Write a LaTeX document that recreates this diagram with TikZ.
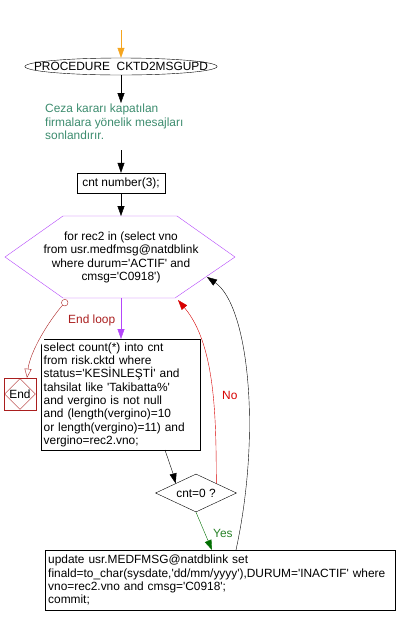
\documentclass[tikz,border=0pt]{standalone}
\usepackage{fontspec}
\setmainfont{Liberation Sans}[Ligatures=TeXOff]
\usetikzlibrary{shapes.geometric,arrows.meta}
\definecolor{orangeA}{RGB}{245,165,30}
\definecolor{purpA}{RGB}{180,70,250}
\definecolor{dred}{RGB}{170,30,30}
\definecolor{redA}{RGB}{215,0,0}
\definecolor{greenA}{RGB}{0,110,0}
\definecolor{greenT}{RGB}{40,130,40}
\definecolor{teal}{RGB}{60,140,110}
\tikzset{
  txt/.style={font=\fontsize{11.9}{13.3}\selectfont},
  boxn/.style={draw=black,txt,inner sep=2.5pt,align=left},
  arr/.style={-{Triangle[width=7pt,length=10pt]}},
}
\begin{document}
\begin{tikzpicture}[x=1pt,y=-1pt]
\useasboundingbox (0,0) rectangle (400,625);
% start
\coordinate (s0) at (121,30);
\node[draw=black,ellipse,inner xsep=-19pt,inner ysep=0pt,minimum height=17pt,txt] (proc) at (121,66.5) {PROCEDURE\ \ CKTD2MSGUPD};
\node[txt,text=teal,align=left,anchor=north west,inner sep=0pt] (cmt) at (45,104) {Ceza kararı kapatılan\\firmalara yönelik mesajları\\sonlandırır.};
\coordinate (c1) at (121,150);
\node[boxn,minimum width=88pt,minimum height=20pt,align=center] (cnt) at (121,183) {cnt number(3);};
% hexagon
\coordinate (h1) at (63,216);
\coordinate (h2) at (177,216);
\coordinate (h3) at (235,257);
\coordinate (h4) at (175,298);
\coordinate (h5) at (63,298);
\coordinate (h6) at (5,257);
\draw[purpA] (h1) -- (h2) -- (h3) -- (h4) -- (h5) -- (h6) -- cycle;
\node[txt,align=center,inner sep=0pt] (hex) at (121,257.5) {for rec2 in (select vno\\from usr.medfmsg@natdblink\\where durum='ACTIF' and\\cmsg='C0918')};
\coordinate (hb) at (121,298);
\coordinate (hel) at (67,300);
\coordinate (her) at (178,300);
\coordinate (hrr) at (207,277);
% select box
\node[boxn,anchor=north west,text width=154pt,minimum height=111pt,inner sep=2.5pt] (sel) at (41,339) {select count(*) into cnt\\from risk.cktd where\\status='KESİNLEŞTİ' and\\tahsilat like 'Takibatta\%'\\and vergino is not null\\and (length(vergino)=10\\or length(vergino)=11) and\\vergino=rec2.vno;};
% end
\node[draw=dred,minimum width=32pt,minimum height=32pt,inner sep=0pt] (endbox) at (20,394) {};
\node[draw=dred,diamond,minimum width=31pt,minimum height=31pt,inner sep=0pt,txt] (endd) at (20,394) {End};
% diamond
\node[draw=black,diamond,aspect=2.1,minimum width=81pt,minimum height=38pt,inner sep=0pt,txt] (dia) at (196,493) {cnt=0 ?};
% update box
\node[boxn,anchor=north west,minimum width=350pt,minimum height=60pt,text width=344pt] (upd) at (45,550) {update usr.MEDFMSG@natdblink set\\finald=to\_char(sysdate,'dd/mm/yyyy'),DURUM='INACTIF' where\\vno=rec2.vno and cmsg='C0918';\\commit;};
% connectors
\draw[orangeA,arr] (s0) -- (proc.north);
\draw[black,arr] (proc.south) -- (121,103);
\draw[black,arr] (c1) -- (cnt.north);
\draw[black,arr] (cnt.south) -- (h1 -| cnt);
\draw[purpA,arr] (hb) -- (sel.north -| hb);
\draw[dred,{Circle[open,length=7pt,width=7pt]}-{Triangle[open,width=7pt,length=9pt]},fill=white] (hel) .. controls (48,322) and (30,352) .. (endbox.north -| 27,0);
\node[txt,text=dred,anchor=west,inner sep=0pt] (el) at (68,320) {End loop};
\draw[black,arr] (165,450) .. controls (170,462) .. (dia.north west);
\draw[redA,arr] (dia.north east) .. controls (216,420) and (216,345) .. (her);
\node[txt,text=redA,anchor=west,inner sep=0pt] (no) at (222,395) {No};
\draw[greenA,arr] (dia.south) -- (upd.north -| 212,0);
\node[txt,text=greenT,anchor=west,inner sep=0pt] (yes) at (213,533) {Yes};
\draw[black,arr] (upd.north -| 236,0) .. controls (262,430) and (248,305) .. (hrr);
\end{tikzpicture}
\end{document}
